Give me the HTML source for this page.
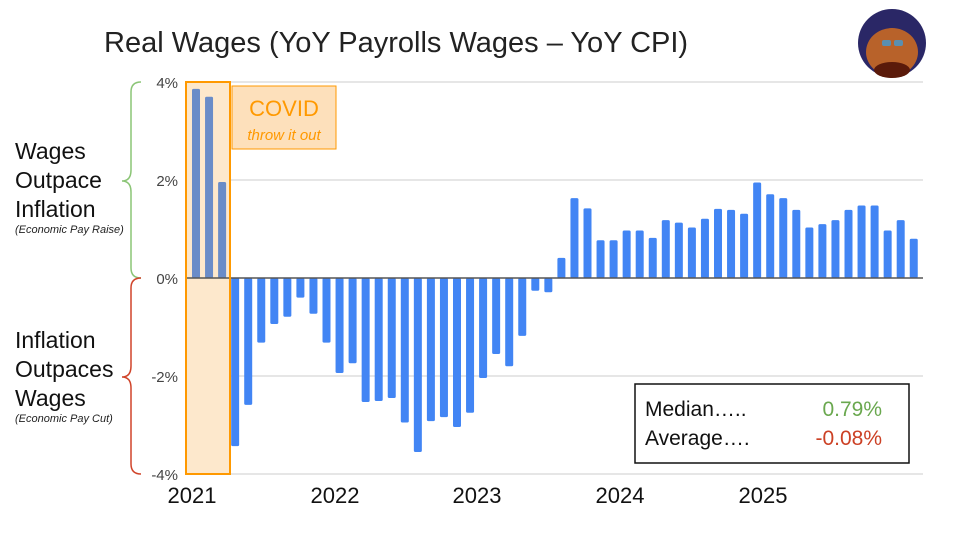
<!DOCTYPE html>
<html><head><meta charset="utf-8"><style>
body{margin:0;background:#fff;width:960px;height:540px;overflow:hidden}
svg{display:block}
text{font-family:"Liberation Sans",sans-serif}
</style></head><body>
<svg id="s" width="960" height="540" xmlns="http://www.w3.org/2000/svg">
<text x="104" y="52" font-size="29" fill="#222">Real Wages (YoY Payrolls Wages  – YoY CPI)</text>
<circle cx="892" cy="43" r="34" fill="#2a2766"/>
<ellipse cx="892" cy="52" rx="26" ry="24" fill="#b8622a"/>
<ellipse cx="892" cy="70" rx="18" ry="8" fill="#5a1a0a"/>
<rect x="882" y="40" width="9" height="6" rx="2" fill="#5a8fb0"/><rect x="894" y="40" width="9" height="6" rx="2" fill="#5a8fb0"/>
<g stroke="#ddd" stroke-width="1.5">
<line x1="186" y1="82" x2="923" y2="82"/><line x1="186" y1="180" x2="923" y2="180"/>
<line x1="186" y1="376" x2="923" y2="376"/><line x1="186" y1="474" x2="923" y2="474"/>
</g>
<rect x="186" y="82" width="44" height="392" fill="#fde8cc"/>
<g id="bars"></g>
<line x1="186" y1="278" x2="923" y2="278" stroke="#555" stroke-width="1.5"/>
<rect x="186" y="82" width="44" height="392" fill="none" stroke="#ff9900" stroke-width="2"/>
<rect x="232" y="86" width="104" height="63" fill="#fde0bb" stroke="#ff9900" stroke-width="1"/>
<text x="284" y="116" font-size="22" fill="#ff9900" text-anchor="middle">COVID</text>
<text x="284" y="140" font-size="15" fill="#ff9900" text-anchor="middle" font-style="italic">throw it out</text>
<g font-size="15" fill="#444" text-anchor="end">
<text x="178" y="88">4%</text><text x="178" y="186">2%</text><text x="178" y="284">0%</text>
<text x="178" y="382">-2%</text><text x="178" y="480">-4%</text>
</g>
<g font-size="22" fill="#111" text-anchor="middle">
<text x="192" y="503">2021</text><text x="335" y="503">2022</text><text x="477" y="503">2023</text>
<text x="620" y="503">2024</text><text x="763" y="503">2025</text>
</g>
<path d="M141,82 Q131,82 131,92 L131,170 Q131,181 122,181 Q131,181 131,192 L131,268 Q131,278 141,278" fill="none" stroke="#8bc576" stroke-width="1.5"/>
<path d="M141,278 Q131,278 131,288 L131,366 Q131,377 122,377 Q131,377 131,388 L131,464 Q131,474 141,474" fill="none" stroke="#d0442a" stroke-width="1.5"/>
<g font-size="23" fill="#111">
<text x="15" y="159">Wages</text><text x="15" y="188">Outpace</text><text x="15" y="217">Inflation</text>
<text x="15" y="348">Inflation</text><text x="15" y="377">Outpaces</text><text x="15" y="406">Wages</text>
</g>
<g font-size="11" fill="#222" font-style="italic">
<text x="15" y="233">(Economic Pay Raise)</text><text x="15" y="422">(Economic Pay Cut)</text>
</g>
<rect x="635" y="384" width="274" height="79" fill="#fff" stroke="#111" stroke-width="1.5"/>
<g font-size="21">
<text x="645" y="416" fill="#111">Median…..</text><text x="645" y="445" fill="#111">Average….</text>
<text x="882" y="416" fill="#6aa84f" text-anchor="end">0.79%</text>
<text x="882" y="445" fill="#cc4125" text-anchor="end">-0.08%</text>
</g>
</svg>
<script>
var v=[3.86,3.70,1.96,-3.43,-2.59,-1.32,-0.94,-0.79,-0.40,-0.73,-1.32,-1.94,-1.74,-2.53,-2.51,-2.45,-2.95,-3.55,-2.92,-2.84,-3.04,-2.75,-2.04,-1.55,-1.80,-1.18,-0.26,-0.29,0.41,1.63,1.42,0.77,0.77,0.97,0.97,0.82,1.18,1.13,1.03,1.21,1.41,1.39,1.31,1.95,1.71,1.63,1.39,1.03,1.10,1.18,1.39,1.48,1.48,0.97,1.18,0.80];
var g=document.getElementById('bars'),h='';
for(var i=0;i<v.length;i++){var cx=196+i*13.05,y=278-v[i]*49;var t=Math.min(y,278),hh=Math.abs(278-y);
h+='<rect x="'+(cx-4)+'" y="'+t+'" width="8" height="'+hh+'" rx="1.5" fill="'+(i<3?'#6a8cc8':'#4285f4')+'"/>';}
g.innerHTML=h;
</script>
</body></html>
